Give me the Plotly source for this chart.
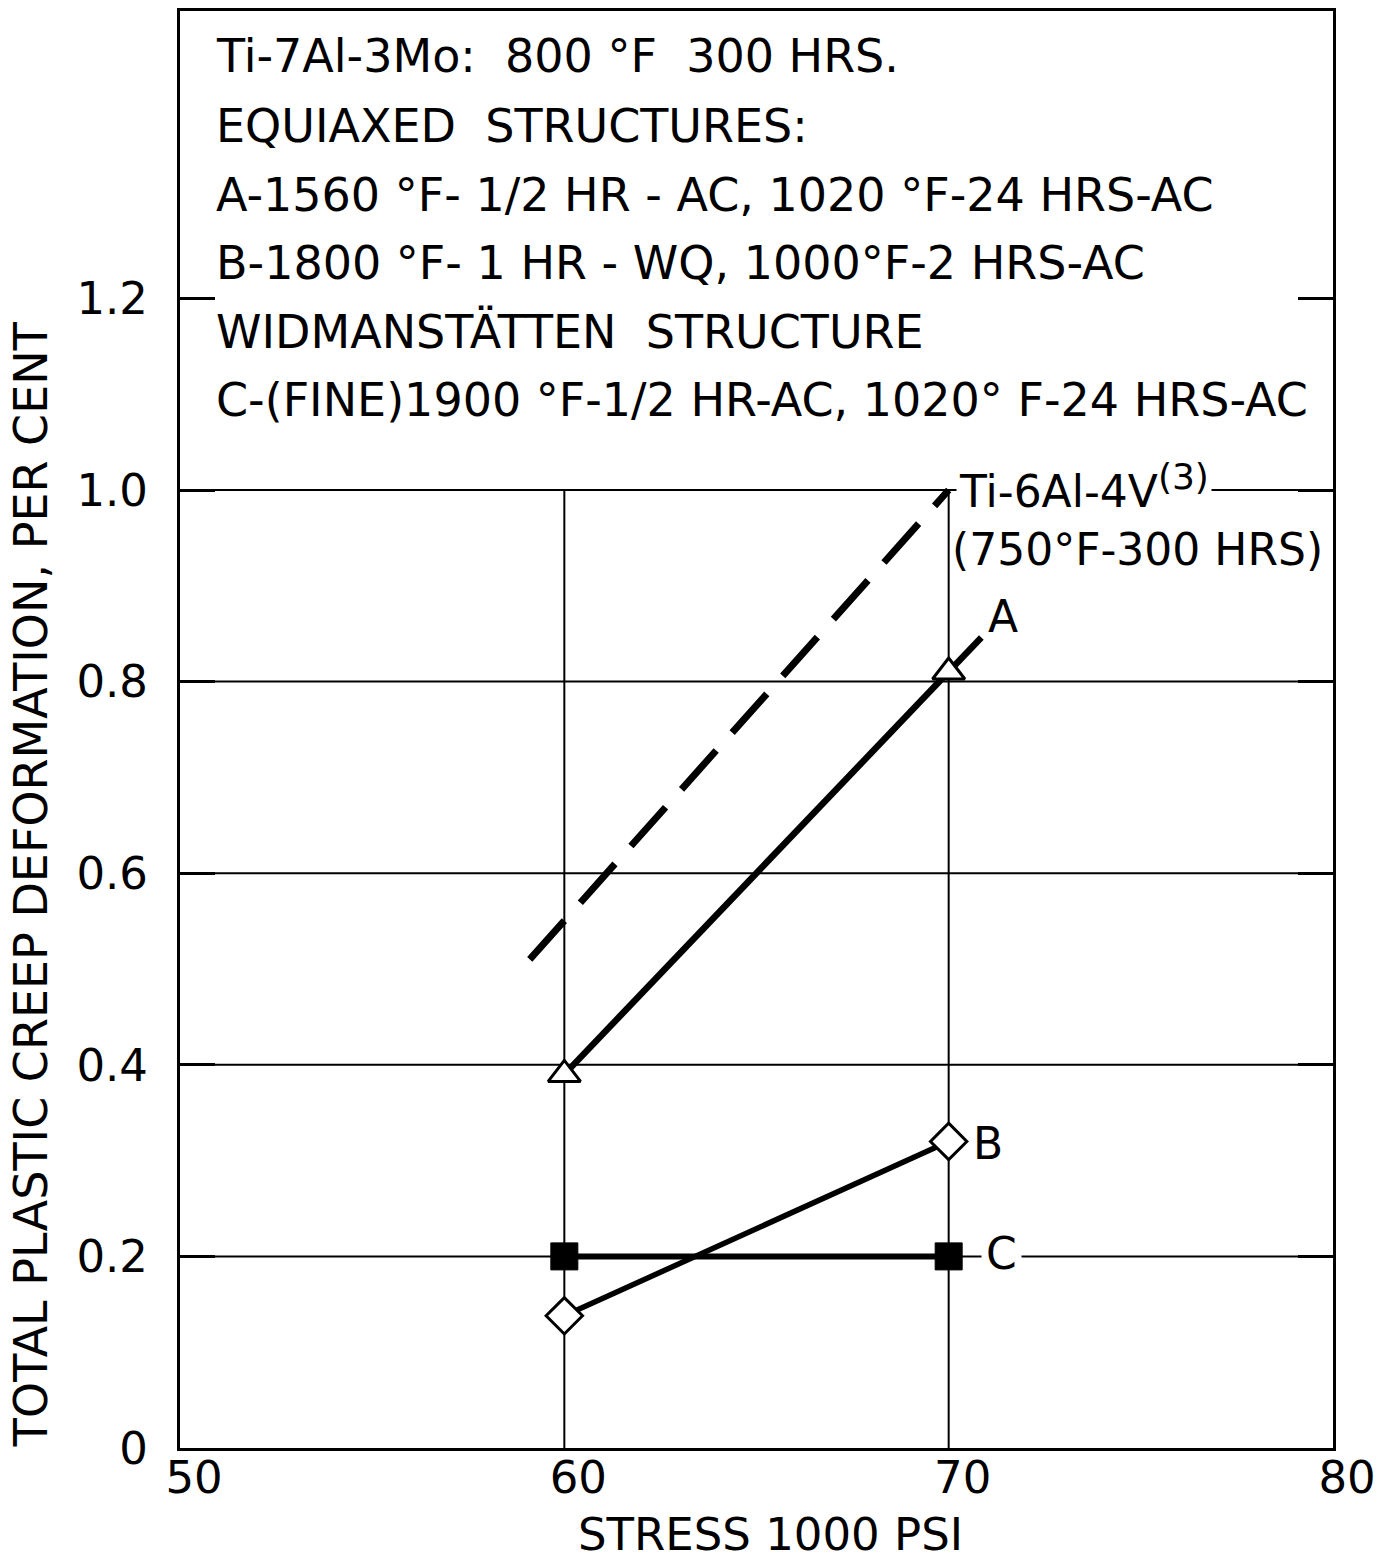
import plotly.graph_objects as go

# ---- data ----
stress_pts = [60, 70]
a_vals = [0.39, 0.81]          # A: equiaxed, triangles
b_vals = [0.138, 0.32]         # B: equiaxed, diamonds
c_vals = [0.20, 0.20]          # C: Widmanstatten fine, squares
a_line_x = [60, 70, 70.85]     # A curve incl. extension to label
a_line_y = [0.39, 0.81, 0.846]
ti64_x = [59.1, 70]            # Ti-6Al-4V reference (dashed)
ti64_y = [0.51, 1.0]

x_ticks = [50, 60, 70, 80]
y_ticks = [0, 0.2, 0.4, 0.6, 0.8, 1.0, 1.2]
y_tick_text = ["0", "0.2", "0.4", "0.6", "0.8", "1.0", "1.2"]
h_grid = [0.2, 0.4, 0.6, 0.8, 1.0]
v_grid = [60, 70]

header_lines = [
    "Ti-7Al-3Mo:  800 °F  300 HRS.",
    "EQUIAXED  STRUCTURES:",
    "A-1560 °F- 1/2 HR - AC, 1020 °F-24 HRS-AC",
    "B-1800 °F- 1 HR - WQ, 1000°F-2 HRS-AC",
    "WIDMANSTÄTTEN  STRUCTURE",
    "C-(FINE)1900 °F-1/2 HR-AC, 1020° F-24 HRS-AC",
]

FONT = "DejaVu Sans"
W, H = 1389, 1564
L, R, T, B = 180, 1333, 8, 1448
XR = [50, 80]
YR = [0, 1.5]

def px_x(px):
    return XR[0] + (px - L) / (R - L) * (XR[1] - XR[0])

def px_y(py):
    return YR[0] + (B - py) / (B - T) * (YR[1] - YR[0])

fig = go.Figure()

# dashed Ti-6Al-4V
fig.add_trace(go.Scatter(x=ti64_x, y=ti64_y, mode="lines",
                         line=dict(color="black", width=7, dash="52px,24px"),
                         showlegend=False, hoverinfo="skip"))
# A
fig.add_trace(go.Scatter(x=a_line_x, y=a_line_y, mode="lines",
                         line=dict(color="black", width=6.5),
                         showlegend=False, hoverinfo="skip"))
fig.add_trace(go.Scatter(x=stress_pts, y=a_vals, mode="markers",
                         marker=dict(symbol="triangle-up", size=28, color="white",
                                     line=dict(color="black", width=3)),
                         showlegend=False))
# B
fig.add_trace(go.Scatter(x=stress_pts, y=b_vals, mode="lines+markers",
                         line=dict(color="black", width=5.5),
                         marker=dict(symbol="diamond", size=28, color="white",
                                     line=dict(color="black", width=3)),
                         showlegend=False))
# C
fig.add_trace(go.Scatter(x=stress_pts, y=c_vals, mode="lines+markers",
                         line=dict(color="black", width=6),
                         marker=dict(symbol="square", size=27, color="black",
                                     line=dict(color="black", width=1)),
                         showlegend=False))

shapes = []
for gy in h_grid:
    shapes.append(dict(type="line", xref="x", yref="y", x0=XR[0], x1=XR[1], y0=gy, y1=gy,
                       line=dict(color="black", width=2), layer="below"))
for gx in v_grid:
    shapes.append(dict(type="line", xref="x", yref="y", x0=gx, x1=gx, y0=0, y1=max(h_grid),
                       line=dict(color="black", width=2), layer="below"))

annotations = []
line_y_px = [53, 123, 192, 261, 330, 398]
for txt, py in zip(header_lines, line_y_px):
    annotations.append(dict(x=px_x(214), y=px_y(py), xref="x", yref="y", text=txt,
                            showarrow=False, xanchor="left", yanchor="middle",
                            font=dict(family=FONT, size=46, color="black")))

annotations += [
    dict(x=px_x(956), y=px_y(484), xref="x", yref="y",
         text="Ti-6Al-4V<sup><span style='font-size:36px'>(3)</span></sup>",
         showarrow=False, xanchor="left", yanchor="middle",
         bgcolor="white", borderpad=2, font=dict(family=FONT, size=44, color="black")),
    dict(x=px_x(950), y=px_y(548), xref="x", yref="y",
         text="(750°F-300 HRS)", showarrow=False, xanchor="left", yanchor="middle",
         font=dict(family=FONT, size=44, color="black")),
    dict(x=px_x(1003), y=px_y(615), xref="x", yref="y", text="A", showarrow=False,
         xanchor="center", yanchor="middle",
         font=dict(family=FONT, size=44, color="black")),
    dict(x=px_x(988), y=px_y(1143), xref="x", yref="y", text="B", showarrow=False,
         xanchor="center", yanchor="middle",
         font=dict(family=FONT, size=44, color="black")),
    dict(x=px_x(1001), y=px_y(1253), xref="x", yref="y", text="C", showarrow=False,
         xanchor="center", yanchor="middle",
         bgcolor="white", borderpad=4, font=dict(family=FONT, size=44, color="black")),
    dict(x=(31 - L) / (R - L), y=(B - 883) / (B - T), xref="paper", yref="paper",
         text="TOTAL PLASTIC CREEP DEFORMATION, PER CENT", textangle=-90,
         xanchor="center", yanchor="middle",
         showarrow=False, font=dict(family=FONT, size=46, color="black")),
    dict(x=(770 - L) / (R - L), y=(B - 1535) / (B - T), xref="paper", yref="paper",
         text="STRESS 1000 PSI", showarrow=False, xanchor="center", yanchor="middle",
         font=dict(family=FONT, size=45, color="black")),
]

fig.update_layout(
    width=W, height=H,
    margin=dict(l=L, r=W - R, t=T, b=H - B),
    paper_bgcolor="white", plot_bgcolor="white",
    shapes=shapes, annotations=annotations,
    showlegend=False,
)
fig.update_xaxes(range=XR, tickvals=x_ticks, ticks="", ticklen=0, showgrid=False, zeroline=False,
                 showline=True, linecolor="black", linewidth=3, mirror=True,
                 ticklabelshift=14, ticklabelstandoff=-12,
                 tickfont=dict(family=FONT, size=45, color="black"))
fig.update_yaxes(range=YR, tickvals=y_ticks, ticktext=y_tick_text, ticks="inside",
                 ticklen=35, tickwidth=2.5, tickcolor="black",
                 showgrid=False, zeroline=False,
                 showline=True, linecolor="black", linewidth=3, mirror="ticks",
                 ticklabelstandoff=20,
                 tickfont=dict(family=FONT, size=45, color="black"))

fig.write_html("out.html", config={"displayModeBar": False},
               post_script="document.body.style.margin='0';")
